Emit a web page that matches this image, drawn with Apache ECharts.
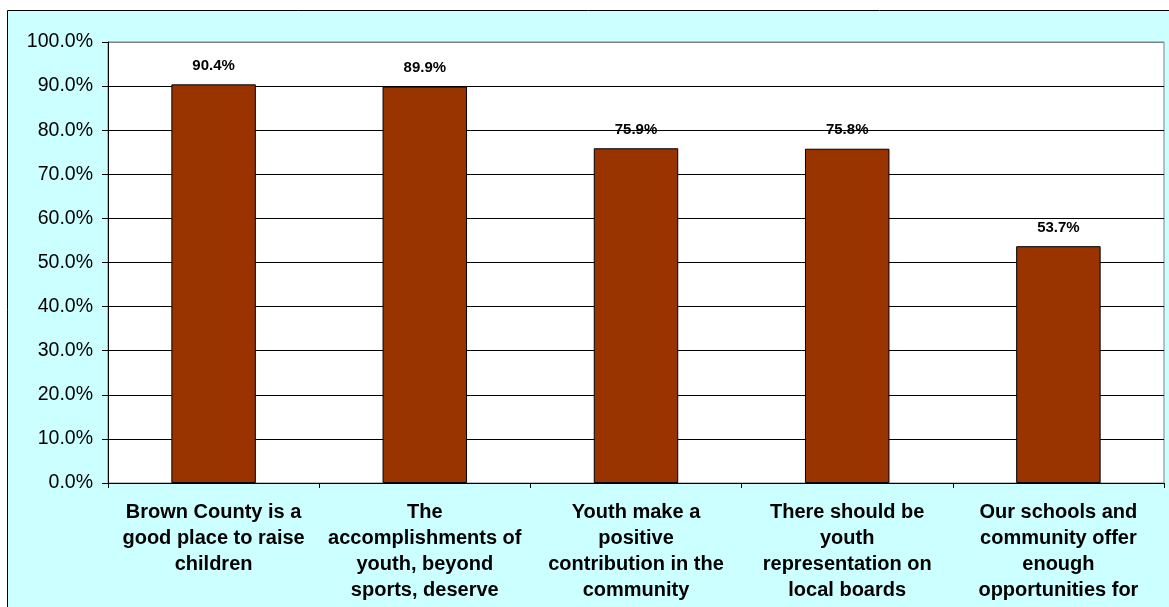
<!DOCTYPE html>
<html>
<head>
<meta charset="utf-8">
<script src="https://cdn.jsdelivr.net/npm/echarts@6/dist/echarts.min.js"></script>
<style>
html,body{margin:0;padding:0;background:#fff;}
#chart{width:1169px;height:607px;}
</style>
</head>
<body>
<div id="chart"></div>
<script>
const categories = [
  "Brown County is a\ngood place to raise\nchildren",
  "The\naccomplishments of\nyouth, beyond\nsports, deserve",
  "Youth make a\npositive\ncontribution in the\ncommunity",
  "There should be\nyouth\nrepresentation on\nlocal boards",
  "Our schools and\ncommunity offer\nenough\nopportunities for"
];
const values = [90.4, 89.9, 75.9, 75.8, 53.7];
const yMin = 0, yMax = 100, yInterval = 10;

const gridLineColors = [];
for (let v = yMin; v <= yMax; v += yInterval) gridLineColors.push(v === yMax ? '#808080' : '#000000');

const chart = echarts.init(document.getElementById('chart'), null, {renderer: 'canvas'});
chart.setOption({
  animation: false,
  backgroundColor: '#ffffff',
  graphic: [{
    type: 'rect', z: -10, silent: true,
    shape: {x: 7.5, y: 10.5, width: 1300, height: 700},
    style: {fill: '#CCFFFF', stroke: '#000000', lineWidth: 1}
  }],
  grid: {
    left: 108, top: 42, width: 1056, height: 441,
    show: true, backgroundColor: '#ffffff', borderColor: '#808080', borderWidth: 1
  },
  xAxis: {
    type: 'category',
    data: categories,
    boundaryGap: true,
    axisLine: {show: true, lineStyle: {color: '#000', width: 1}},
    axisTick: {show: true, length: 5, lineStyle: {color: '#000'}},
    axisLabel: {
      interval: 0, margin: 16, color: '#000',
      fontFamily: 'Liberation Sans, Arial, sans-serif',
      fontSize: 20, fontWeight: 'bold', lineHeight: 26, align: 'center'
    }
  },
  yAxis: {
    type: 'value', min: yMin, max: yMax, interval: yInterval,
    axisLine: {show: true, lineStyle: {color: '#000', width: 1}},
    axisTick: {show: true, length: 6, lineStyle: {color: '#000'}},
    splitLine: {show: true, lineStyle: {color: gridLineColors, width: 1}},
    axisLabel: {
      margin: 15, color: '#000',
      fontFamily: 'Liberation Sans, Arial, sans-serif', fontSize: 19.5,
      formatter: v => v.toFixed(1) + '%'
    }
  },
  series: [{
    type: 'bar',
    data: values,
    barWidth: '40%',
    itemStyle: {color: '#993300', borderColor: '#000', borderWidth: 1},
    label: {
      show: true, position: 'top', distance: 11, color: '#000',
      fontFamily: 'Liberation Sans, Arial, sans-serif', fontSize: 15, fontWeight: 'bold',
      formatter: p => p.value.toFixed(1) + '%'
    }
  }]
});
</script>
</body>
</html>
